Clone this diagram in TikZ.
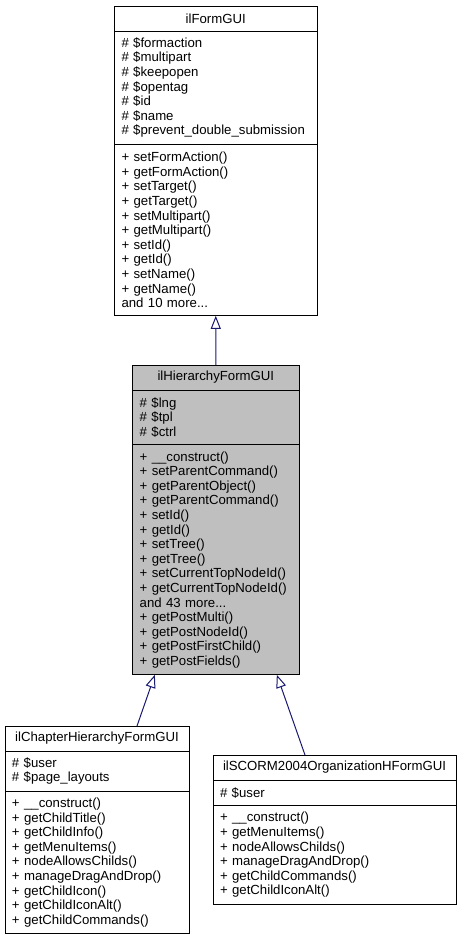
\documentclass[tikz,border=0pt]{standalone}
\usepackage{fontspec}
\setmainfont{Liberation Sans}
\usetikzlibrary{positioning,arrows.meta}
\definecolor{edgeblue}{RGB}{25,25,112}
\definecolor{boxgray}{RGB}{191,191,191}
\begin{document}
\begin{tikzpicture}[x=1pt,y=-1pt,
    part/.style={draw=black,line width=1pt,fill=white,outer sep=0pt,inner xsep=7pt,inner ysep=0pt,align=left,font=\fontsize{13.2}{14.6}\selectfont},
    head/.style={part,align=center,minimum height=25pt},
    inherit/.style={draw=edgeblue,line width=1pt,-{Triangle[open,length=13pt,width=10pt]}}]
  \useasboundingbox (0,0) rectangle (461,940);

  \node[head,text width=188.5pt,anchor=north west] (F) at (114.5,6) {ilFormGUI};
  \node[part,text width=188.5pt,minimum height=113.2pt,below=0pt of F] (Fa) {\# \$formaction\\ \# \$multipart\\ \# \$keepopen\\ \# \$opentag\\ \# \$id\\ \# \$name\\ \# \$prevent\_double\_submission};
  \node[part,text width=188.5pt,minimum height=171.6pt,below=0pt of Fa] (Fm) {+ setFormAction()\\ + getFormAction()\\ + setTarget()\\ + getTarget()\\ + setMultipart()\\ + getMultipart()\\ + setId()\\ + getId()\\ + setName()\\ + getName()\\ and 10 more...};

  \node[head,fill=boxgray,text width=152.3pt,anchor=north west] (H) at (132.7,365) {ilHierarchyFormGUI};
  \node[part,fill=boxgray,text width=152.3pt,minimum height=54.8pt,below=0pt of H] (Ha) {\# \$lng\\ \# \$tpl\\ \# \$ctrl};
  \node[part,fill=boxgray,text width=152.3pt,minimum height=230pt,below=0pt of Ha] (Hm) {+ \_\_construct()\\ + setParentCommand()\\ + getParentObject()\\ + getParentCommand()\\ + setId()\\ + getId()\\ + setTree()\\ + getTree()\\ + setCurrentTopNodeId()\\ + getCurrentTopNodeId()\\ and 43 more...\\ + getPostMulti()\\ + getPostNodeId()\\ + getPostFirstChild()\\ + getPostFields()};

  \node[head,text width=170pt,anchor=north west] (C) at (5,726) {ilChapterHierarchyFormGUI};
  \node[part,text width=170pt,minimum height=40.2pt,below=0pt of C] (Ca) {\# \$user\\ \# \$page\_layouts};
  \node[part,text width=170pt,minimum height=142.4pt,below=0pt of Ca] (Cm) {+ \_\_construct()\\ + getChildTitle()\\ + getChildInfo()\\ + getMenuItems()\\ + nodeAllowsChilds()\\ + manageDragAndDrop()\\ + getChildIcon()\\ + getChildIconAlt()\\ + getChildCommands()};

  \node[head,text width=229pt,anchor=north west] (S) at (213,755) {ilSCORM2004OrganizationHFormGUI};
  \node[part,text width=229pt,minimum height=25.6pt,below=0pt of S] (Sa) {\# \$user};
  \node[part,text width=229pt,minimum height=98.6pt,below=0pt of Sa] (Sm) {+ \_\_construct()\\ + getMenuItems()\\ + nodeAllowsChilds()\\ + manageDragAndDrop()\\ + getChildCommands()\\ + getChildIconAlt()};

  \draw[inherit] (H.north) -- (Fm.south);
  \draw[inherit] ([xshift=40pt]C.north) -- ([xshift=-61pt]Hm.south);
  \draw[inherit] ([xshift=-29.5pt]S.north) -- ([xshift=61pt]Hm.south);
\end{tikzpicture}
\end{document}
